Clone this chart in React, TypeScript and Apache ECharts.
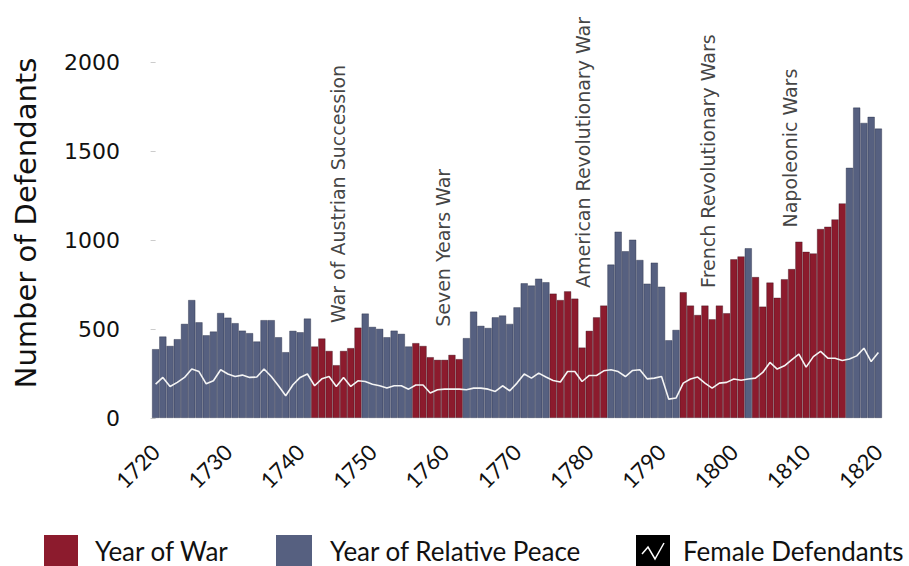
import React, { useEffect, useRef } from "react";
import * as echarts from "echarts";

const firstYear = 1720;
const lastYear = 1820;
const years: string[] = [];
for (let y = firstYear; y <= lastYear; y++) years.push(String(y));

// Total defendants per year (1720..1820)
const defendants = [
  387, 458, 405, 443, 529, 663, 538, 465, 486, 590,
  564, 533, 491, 477, 430, 550, 550, 454, 370, 490,
  482, 559, 402, 447, 377, 297, 377, 393, 508, 587,
  512, 501, 454, 491, 473, 402, 421, 405, 342, 327,
  327, 355, 331, 449, 598, 518, 506, 566, 576, 529,
  622, 757, 744, 783, 763, 699, 663, 712, 671, 396,
  490, 566, 632, 862, 1047, 937, 1002, 888, 755, 873,
  738, 437, 495, 707, 632, 579, 632, 555, 632, 589,
  892, 908, 954, 792, 626, 761, 676, 780, 837, 991,
  934, 925, 1062, 1075, 1116, 1206, 1406, 1744, 1658, 1692,
  1626,
];

// Female defendants per year (1720..1820)
const female = [
  190, 228, 177, 200, 228, 275, 261, 192, 209, 271,
  247, 233, 241, 228, 230, 275, 233, 181, 125, 187,
  228, 247, 181, 220, 233, 177, 228, 177, 209, 205,
  190, 181, 168, 181, 181, 162, 185, 185, 140, 159,
  162, 162, 162, 159, 168, 168, 162, 149, 181, 153,
  196, 247, 224, 252, 230, 211, 202, 261, 261, 205,
  239, 239, 265, 271, 261, 233, 267, 271, 220, 224,
  233, 106, 112, 196, 219, 230, 196, 168, 196, 200,
  219, 212, 219, 224, 256, 312, 275, 293, 327, 359,
  286, 345, 374, 336, 336, 323, 331, 349, 392, 317,
  368,
];

// War periods (inclusive years)
const warPeriods: [number, number][] = [
  [1742, 1748],
  [1756, 1762],
  [1775, 1782],
  [1793, 1801],
  [1803, 1815],
];

// Annotations: [bar position index, value at text start, label]
const annotations: [number, number, string][] = [
  [25.2, 534, "War of Austrian Succession"],
  [39.8, 512, "Seven Years War"],
  [59.1, 731, "American Revolutionary War"],
  [76.4, 731, "French Revolutionary Wars"],
  [87.8, 1070, "Napoleonic Wars"],
];

const yTicks = { min: 0, max: 2000, interval: 500 };

const WAR = "#8c1b2d";
const PEACE = "#566080";

function isWar(year: number) {
  return warPeriods.some(([a, b]) => year >= a && year <= b);
}

export default function App() {
  const ref = useRef<HTMLDivElement>(null);
  useEffect(() => {
    if (!ref.current) return;
    const chart = echarts.init(ref.current, undefined, { renderer: "svg" });
    const warData = years.map((y, i) => (isWar(Number(y)) ? defendants[i] : "-"));
    const peaceData = years.map((y, i) => (isWar(Number(y)) ? "-" : defendants[i]));
    const legendY = 535;
    const legendFont = '26px Lato, "Open Sans", sans-serif';
    chart.setOption({
      animation: false,
      grid: { left: 152, right: 27, top: 62, bottom: 148 },
      xAxis: [
        {
          type: "category",
          data: years,
          boundaryGap: true,
          axisLine: { show: false },
          axisTick: { show: false },
          axisLabel: {
            interval: (idx: number) => idx % 10 === 0,
            rotate: 45,
            margin: 30,
            color: "#111",
            fontFamily: "Lato, 'Open Sans', sans-serif",
            fontSize: 22,
          },
          splitLine: { show: false },
        },
        {
          type: "value",
          min: -0.5,
          max: 100.5,
          show: false,
        },
      ],
      yAxis: {
        type: "value",
        min: yTicks.min,
        max: yTicks.max,
        interval: yTicks.interval,
        offset: 14,
        axisLine: { show: false },
        axisTick: { show: true, length: 5, lineStyle: { color: "#cccccc", width: 1 } },
        axisLabel: {
          margin: 18,
          color: "#111",
          fontFamily: "DejaVu Sans",
          fontSize: 22,
          formatter: (v: number) => String(v),
        },
        splitLine: { show: false },
      },
      series: [
        {
          name: "Year of War",
          type: "bar",
          stack: "d",
          data: warData,
          barCategoryGap: "0%",
          itemStyle: { color: WAR, borderColor: "rgba(40,10,20,0.55)", borderWidth: 0.6 },
        },
        {
          name: "Year of Relative Peace",
          type: "bar",
          stack: "d",
          data: peaceData,
          barCategoryGap: "0%",
          itemStyle: { color: PEACE, borderColor: "rgba(25,30,55,0.6)", borderWidth: 0.6 },
        },
        {
          name: "Female Defendants",
          type: "line",
          data: female,
          symbol: "none",
          z: 5,
          lineStyle: { color: "#f4f4f4", width: 1.6 },
          itemStyle: { color: "#f4f4f4" },
        },
        {
          name: "annotations",
          type: "scatter",
          xAxisIndex: 1,
          symbolSize: 0,
          z: 6,
          data: annotations.map((a) => [a[0], a[1], a[2]]),
          label: {
            show: true,
            position: [0, 0],
            rotate: 90,
            align: "left",
            verticalAlign: "middle",
            formatter: (p: any) => p.data[2],
            fontFamily: "DejaVu Sans",
            fontSize: 19,
            color: "#111",
          },
        },
      ],
      graphic: [
        {
          type: "text",
          x: 26,
          y: 223,
          rotation: Math.PI / 2,
          style: {
            text: "Number of Defendants",
            font: "29px 'DejaVu Sans'",
            fill: "#111",
            align: "center",
            verticalAlign: "middle",
          },
        },
        { type: "rect", x: 44, y: legendY, shape: { width: 34, height: 31 }, style: { fill: WAR } },
        { type: "text", x: 95, y: 551, style: { text: "Year of War", font: legendFont, fill: "#111", align: "left", verticalAlign: "middle" } },
        { type: "rect", x: 276, y: legendY, shape: { width: 36, height: 31 }, style: { fill: PEACE } },
        { type: "text", x: 330, y: 551, style: { text: "Year of Relative Peace", font: legendFont, fill: "#111", align: "left", verticalAlign: "middle" } },
        { type: "rect", x: 636, y: legendY, shape: { width: 34, height: 31 }, style: { fill: "#000" } },
        {
          type: "polyline",
          x: 636,
          y: legendY,
          shape: { points: [[6, 19], [12, 12], [19, 24], [28, 8]] },
          style: { stroke: "#fff", lineWidth: 1.5, fill: "none" },
        },
        { type: "text", x: 683, y: 551, style: { text: "Female Defendants", font: legendFont, fill: "#111", align: "left", verticalAlign: "middle" } },
      ],
    });
    return () => chart.dispose();
  }, []);
  return (
    <div
      ref={ref}
      style={{ position: "fixed", left: 0, top: 0, width: 909, height: 566, background: "#fff" }}
    />
  );
}
